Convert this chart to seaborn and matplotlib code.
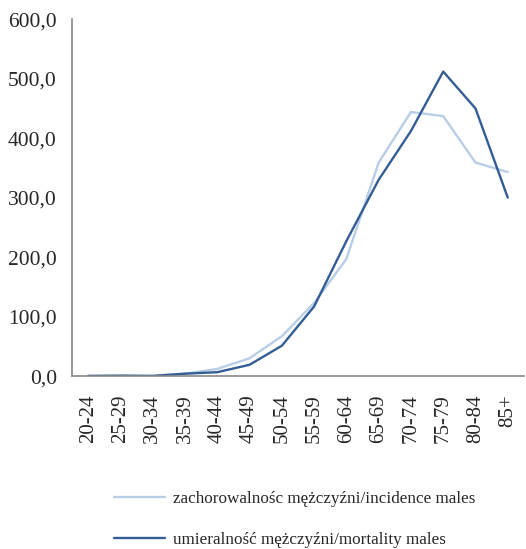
import matplotlib
matplotlib.use("Agg")
import matplotlib.pyplot as plt
import seaborn as sns
import pandas as pd
import numpy as np
from matplotlib.ticker import FixedLocator, FuncFormatter

categories = ["20-24", "25-29", "30-34", "35-39", "40-44", "45-49", "50-54",
              "55-59", "60-64", "65-69", "70-74", "75-79", "80-84", "85+"]
incidence = [0.3, 1.0, 0.5, 4.0, 12.0, 30.0, 67.0, 123.0, 197.0, 359.0, 444.0, 437.0, 359.0, 343.0]
mortality = [0.2, 0.5, 0.2, 4.0, 6.5, 19.0, 51.0, 117.0, 227.0, 330.0, 412.0, 512.0, 450.0, 300.0]
series_names = ["zachorowalnośc mężczyźni/incidence males",
                "umieralność mężczyźni/mortality males"]
y_ticks = [0, 100, 200, 300, 400, 500, 600]

sns.set_style("white")
plt.rcParams['font.family'] = ['Liberation Serif', 'DejaVu Serif']

df = pd.DataFrame({
    "pos": list(range(len(categories))) * 2,
    "value": incidence + mortality,
    "series": [series_names[0]] * len(categories) + [series_names[1]] * len(categories),
})

fig = plt.figure(figsize=(5.26, 5.49), dpi=100)
ax = fig.add_axes([0.137, 0.315, 0.859, 0.650])
palette = {series_names[0]: "#b8cde6", series_names[1]: "#335d94"}
sns.lineplot(data=df, x="pos", y="value", hue="series", palette=palette,
             linewidth=1.7, ax=ax, legend=False)

ax.set_xlim(-0.5, len(categories) - 0.5)
ax.set_ylim(0, 600)
ax.set_yticks(y_ticks)
ax.yaxis.set_major_formatter(FuncFormatter(lambda v, p: f"{v:.1f}".replace(".", ",")))
ax.set_xticks(range(len(categories)))
ax.set_xticklabels(categories, rotation=90)
ax.xaxis.set_minor_locator(FixedLocator(np.arange(-0.5, len(categories), 1.0)))
ax.tick_params(axis="x", which="major", length=0, pad=13, labelsize=15)
ax.tick_params(axis="x", which="minor", length=5, width=1.2, color="#888888", direction="out")
ax.tick_params(axis="y", length=6, width=1.2, color="#888888", direction="out", labelsize=15.5, pad=5)
ax.set_xlabel("")
ax.set_ylabel("")
for s in ["top", "right"]:
    ax.spines[s].set_visible(False)
for s in ["left", "bottom"]:
    ax.spines[s].set_color("#888888")
    ax.spines[s].set_linewidth(1.2)

from matplotlib.lines import Line2D
handles = [Line2D([0], [0], color=palette[n], linewidth=1.7) for n in series_names]
fig.legend(handles, series_names, loc="center left", bbox_to_anchor=(0.203, 0.054),
           frameon=False, fontsize=12.3, handlelength=3.0, labelspacing=1.45,
           handletextpad=0.45, borderaxespad=0)

fig.savefig("out.png", dpi=100)
